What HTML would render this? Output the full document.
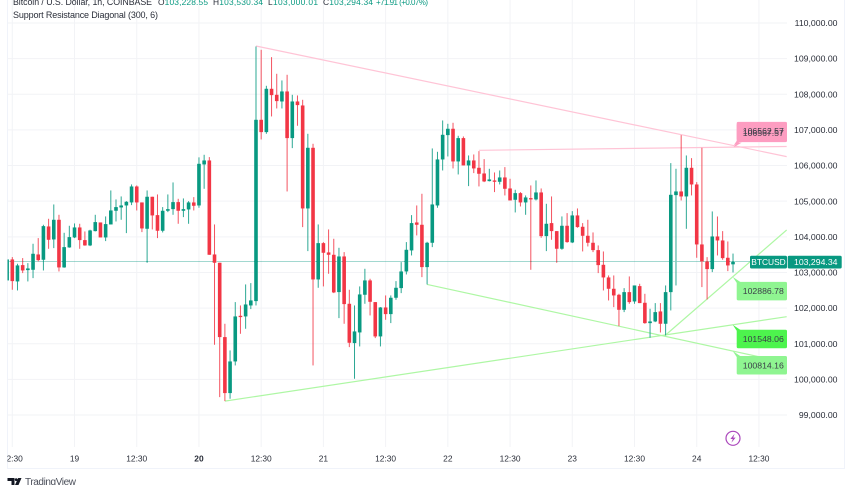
<!DOCTYPE html>
<html lang="en">
<head>
<meta charset="utf-8">
<title>BTCUSD chart</title>
<style>
html,body{margin:0;padding:0;background:#fff;width:852px;height:485px;overflow:hidden}
svg{display:block;font-family:"Liberation Sans",sans-serif}
</style>
</head>
<body>
<svg id="chart" xmlns="http://www.w3.org/2000/svg" width="852" height="485" viewBox="0 0 852 485">
  <defs><clipPath id="pane"><rect x="7.5" y="0" width="779.5" height="468"/></clipPath></defs>
  <rect x="0" y="0" width="852" height="485" fill="#fff"/>
  <path d="M7.5 0V468.5H844.5V0" fill="none" stroke="#f0f3fa" stroke-width="1"/>
  <g id="grid"></g>
  <g id="trends" clip-path="url(#pane)"></g>
  <g id="price-line"></g>
  <g id="candles" clip-path="url(#pane)"></g>
  <g id="trend-labels"></g>
  <g id="y-axis" font-size="8.7" fill="#2a2e39" text-anchor="end"></g>
  <g id="x-axis" font-size="8.4" fill="#2a2e39" text-anchor="middle"></g>
  <g id="last-price"></g>

  <text x="13" y="5" font-size="8.8" fill="#2a2e39" textLength="139">Bitcoin / U.S. Dollar, 1h, COINBASE</text>
  <g font-size="8.4" fill="#089981">
    <text x="158" y="5" textLength="50"><tspan fill="#2a2e39">O</tspan>103,228.55</text>
    <text x="213" y="5" textLength="50"><tspan fill="#2a2e39">H</tspan>103,530.34</text>
    <text x="268" y="5" textLength="50"><tspan fill="#2a2e39">L</tspan>103,000.01</text>
    <text x="323" y="5" textLength="50"><tspan fill="#2a2e39">C</tspan>103,294.34</text>
    <text x="376" y="5" font-size="8" textLength="52">+71.91 (+0.07%)</text>
  </g>
  <text x="13" y="18" font-size="9" fill="#2a2e39" textLength="145">Support Resistance Diagonal (300, 6)</text>

  <g>
    <circle cx="733" cy="438.3" r="7" fill="#fff" stroke="#ab47bc" stroke-width="1.2"/>
    <polygon points="734.6,433.8 730.4,439 732.8,439 731.4,442.8 735.6,437.6 733.2,437.6" fill="#ab47bc"/>
  </g>

  <g>
    <polygon points="7.5,478 14.5,478 14.5,485 11.5,485 11.5,481 7.5,481" fill="#131722"/>
    <circle cx="16.2" cy="479.6" r="1.4" fill="#131722"/>
    <polygon points="18.2,478 21.5,478 18.5,485 15,485" fill="#131722"/>
    <text x="25" y="485" font-size="10" fill="#4a4e59" textLength="51">TradingView</text>
  </g>
</svg>
<script>
// Candle data, oldest first (1h BTCUSD)
const opens = [
102776,103365,102748,103206,103066,103075,103505,103356,104291,103926,
104478,103141,103702,103982,104263,103908,103758,104160,104403,103982,
104347,104731,104824,104880,104965,105413,104965,104226,105124,104609,
104170,104731,104777,104974,104731,104768,104965,104880,106031,106143,
103505,103272,101186,99615,100503,101784,101766,102074,102196,107284,
106938,108154,107985,107798,108079,106770,107798,107686,104796,106498,
102804,103823,103562,103496,102449,103449,102121,101018,101317,102374,
102776,102168,101205,102018,101831,102290,102561,103028,103618,104403,
104338,103150,103833,104880,106171,106854,107032,106115,106770,106003,
106143,105937,105778,105563,105582,105544,105666,105357,105039,105226,
104965,105086,105049,105245,104020,104385,104160,103665,104310,103842,
104600,104282,104029,103833,103627,103215,102860,102542,102373,101952,
102448,102186,102617,102149,101578,101625,101906,101560,102448,105170,
105273,105133,105937,105469,103786,103309,103094,104010,103898,103412,
103228];
const highs = [
103365,103431,103244,103403,103262,103805,103964,104338,104506,104908,
104618,104113,104310,104375,104366,104151,104198,104618,104403,104572,
105301,105049,105133,105002,105470,105442,104965,105301,105124,105189,
104834,105189,105526,105067,105077,105002,105114,106230,106302,106237,
104347,103272,101560,100812,102168,102074,102664,102701,109342,109248,
108238,109042,108575,108388,108547,107985,107967,107845,106891,106611,
104347,103851,104207,103945,103692,103571,102514,102074,102608,103103,
102823,102168,102028,102355,102355,102757,103290,103852,104609,104880,
105208,103860,106480,106386,107265,107172,107200,106835,106816,106283,
106311,106405,106180,105909,105806,105862,105956,105629,105320,105255,
105161,105442,105582,105357,104927,105133,104160,104572,104665,104721,
104796,104385,104478,104123,103758,103589,102916,102916,102401,102560,
102888,102635,102682,102401,101981,102140,102140,102635,106068,105909,
106853,106283,106208,105535,106498,103430,104712,104571,104160,103870,
103530];
const lows = [
102776,102514,102495,102982,102748,102841,103309,103056,103664,103683,
103028,103131,103693,103964,103664,103749,103739,104151,103982,103880,
104347,104431,104478,104104,104890,104740,104132,103272,104207,103964,
104123,104693,104618,104366,104553,104366,104740,104815,105348,103496,
100971,99502,99390,99456,100391,101279,101420,101972,102074,106732,
106891,107378,107602,107602,105273,106489,107116,104272,103599,100391,
102570,102608,102963,102420,101719,101560,100905,100017,100924,102121,
101794,101158,100924,101672,101579,102233,102420,102944,103477,104039,
102869,102664,103711,104815,105862,106255,105919,105750,106003,105423,
105788,105414,105535,105554,105255,105470,105161,105021,104684,104852,
104618,103075,105021,103973,103599,103917,103272,103637,103833,103824,
104254,103590,103730,103571,102982,102495,102214,102027,101494,101887,
102121,102121,102140,101560,101167,101606,101316,101232,101934,102635,
105020,104225,105161,103412,102589,102242,103009,103477,103356,103037,
103000];
const closes = [
103365,102757,103197,103056,103113,103524,103346,104300,103917,104478,
103141,103711,103992,104263,103908,103758,104179,104413,103982,104357,
104740,104834,104880,104983,105413,104965,104235,105124,104600,104170,
104731,104777,104974,104731,104777,104965,104871,106049,106143,103496,
103272,101186,99615,100503,101766,101747,102102,102215,107284,106938,
108154,107976,107808,108079,106770,107798,107696,104796,106498,102804,
103823,103552,103496,102439,103449,102112,101027,101345,102383,102776,
102177,101205,102018,101831,102290,102570,103028,103636,104385,104338,
103150,103833,104908,106171,106863,107032,106115,106770,106003,106143,
105919,105769,105554,105610,105544,105666,105348,105021,105226,104965,
105105,105049,105245,104020,104366,104160,103665,104310,103852,104600,
104273,104029,103833,103627,103206,102860,102542,102355,101952,102448,
102168,102635,102140,101578,101625,101887,101560,102448,105179,105273,
105133,105937,105469,103786,103309,103094,104010,103898,103402,103197,
103294];

// Axis ticks
const priceTicks = [110000,109000,108000,107000,106000,105000,104000,103000,102000,101000,100000,99000];
const timeTickIndex = [1,13,25,37,49,61,73,85,97,109,121,133,145];
const timeTickLabels = ["12:30","19","12:30","20","12:30","21","12:30","22","12:30","23","12:30","24","12:30"];

// Support / resistance diagonals: candle index and price at each end
const trendKinds = ["resistance","resistance","support","support","support"];
const trendStartIndex = [48,91,81,42,127];
const trendStartPrice = [109355,106428,102664,99390,101245];
const trendEndIndex = [150.35,150.35,150.35,150.35,150.35];
const trendEndPrice = [106250,106535,100466,101759,104191];
const trendLabelText = ["106562.57","106567.57","100814.16","101548.06","102886.78"];

const symbolName = "BTCUSD";

// Axis functions
const X_ZERO = 7.115, X_STEP = 5.185;
const Y_TOP = 23, Y_TOP_PRICE = 110000, Y_SCALE = 0.035636;
function xOf(i){ return X_ZERO + i * X_STEP; }
function yOf(p){ return Y_TOP + (Y_TOP_PRICE - p) * Y_SCALE; }
function indexOfX(x){ return (x - X_ZERO) / X_STEP; }
function fmt(p){ return p.toLocaleString("en-US",{minimumFractionDigits:2,maximumFractionDigits:2}); }

const NS = "http://www.w3.org/2000/svg";
function make(tag, parent, attrs, text){
  const el = document.createElementNS(NS, tag);
  for (const k in attrs) el.setAttribute(k, attrs[k]);
  if (text !== undefined) el.textContent = text;
  parent.appendChild(el);
  return el;
}
const gridG = document.getElementById("grid");
const yAxisG = document.getElementById("y-axis");
const xAxisG = document.getElementById("x-axis");
const candleG = document.getElementById("candles");
const trendG = document.getElementById("trends");
const trendLabelG = document.getElementById("trend-labels");
const priceLineG = document.getElementById("price-line");
const lastG = document.getElementById("last-price");

priceTicks.forEach(function(p){
  const y = yOf(p);
  const line = make("line", gridG, {x1:7.5, x2:787, y1:y, y2:y, stroke:"#f2f3f6", "stroke-width":1});
  
  
  const t = make("text", yAxisG, {x:837.5, y:y + 3.1}, fmt(p));
  
  
});

timeTickIndex.forEach(function(i, n){
  const x = xOf(i);
  const line = make("line", gridG, {x1:x, x2:x, y1:0, y2:447, stroke:"#f2f3f6", "stroke-width":1});
  
  
  const label = timeTickLabels[n];
  const attrs = {x:x, y:461.3};
  if (label === "20") attrs["font-weight"] = "bold";
  if (n === 0) attrs["clip-path"] = "url(#pane)";
  const t = make("text", xAxisG, attrs, label);
  
  
});

trendKinds.forEach(function(kind, n){
  const line = make("line", trendG, {
    x1:xOf(trendStartIndex[n]), y1:yOf(trendStartPrice[n]),
    x2:xOf(trendEndIndex[n]), y2:yOf(trendEndPrice[n]),
    stroke: kind === "resistance" ? "#ffc4d6" : "#aef7a4", "stroke-width":1.2
  });
  
  
});

const lastClose = closes[closes.length - 1];
const lastY = yOf(lastClose);
const dotY = Math.floor(lastY) + 0.5;
const dotted = make("line", priceLineG, {x1:7.5, x2:787, y1:dotY, y2:dotY, stroke:"#089981", "stroke-width":1, "stroke-dasharray":"1 1", opacity:0.75});



opens.forEach(function(o, i){
  const c = closes[i], h = highs[i], l = lows[i];
  const col = c >= o ? "#089981" : "#f23645";
  const x = xOf(i);
  const wick = make("rect", candleG, {x:x - 0.5, y:yOf(h), width:1, height:Math.max(yOf(l) - yOf(h), 0.5), fill:col, opacity:0.85});
  
  
  const top = yOf(Math.max(o, c));
  const body = make("rect", candleG, {x:x - 1.8, y:top, width:3.6, height:Math.max(yOf(Math.min(o, c)) - top, 1), fill:col});
  
  
});

// Price callouts pinned to each diagonal at a fixed time position
const calloutIndex = indexOfX(732.7);
trendKinds.forEach(function(kind, n){
  const t0 = trendStartIndex[n], t1 = trendEndIndex[n];
  const price = trendStartPrice[n] + (trendEndPrice[n] - trendStartPrice[n]) * (calloutIndex - t0) / (t1 - t0);
  const tipY = yOf(price);
  const tipX = xOf(calloutIndex);
  const isRes = kind === "resistance";
  const top = isRes ? tipY - 23.5 : tipY + 5;
  const fill = isRes ? "#fd9dc1" : (n === 3 ? "#4df44d" : "#8ff591");
  const tip = make("polygon", trendLabelG, {
    points: isRes
      ? (tipX + 4) + "," + (top + 19) + " " + (tipX + 1) + "," + tipY + " " + (tipX + 9) + "," + (top + 19)
      : (tipX + 4) + "," + (top + 1) + " " + tipX + "," + tipY + " " + (tipX + 9) + "," + (top + 1),
    fill: fill
  });
  
  
  const box = make("rect", trendLabelG, {x:736.7, y:top, width:50.3, height:18.5, rx:1.5, fill:fill});
  
  
});
trendKinds.forEach(function(kind, n){
  const t0 = trendStartIndex[n], t1 = trendEndIndex[n];
  const price = trendStartPrice[n] + (trendEndPrice[n] - trendStartPrice[n]) * (calloutIndex - t0) / (t1 - t0);
  const tipY = yOf(price);
  const top = kind === "resistance" ? tipY - 23.5 : tipY + 5;
  const t = make("text", trendLabelG, {x:763.3, y:top + 12.3, "font-size":8.7, "text-anchor":"middle", fill:"#3a3e48"}, trendLabelText[n]);
  
  
});

const symBox = make("rect", lastG, {x:750, y:lastY - 6.2, width:37, height:12.7, rx:1.5, fill:"#089981"});


const symText = make("text", lastG, {x:768.5, y:lastY + 3.1, "font-size":8.4, "text-anchor":"middle", fill:"#fff"}, symbolName);


const priceBox = make("rect", lastG, {x:787.7, y:lastY - 6.2, width:54, height:12.7, rx:1.5, fill:"#089981"});


const priceText = make("text", lastG, {x:837.5, y:lastY + 3.1, "font-size":8.7, "text-anchor":"end", fill:"#fff"}, fmt(103294.34));


</script>
</body>
</html>
